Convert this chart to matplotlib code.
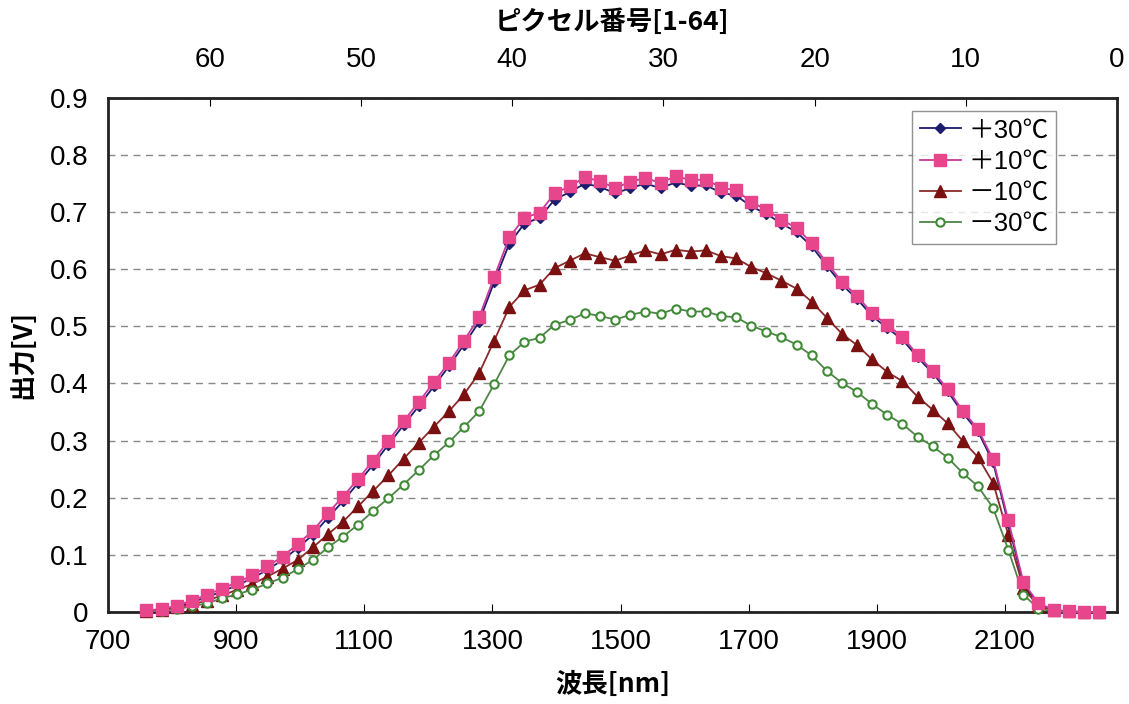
import numpy as np
import matplotlib
matplotlib.use('Agg')
import matplotlib.pyplot as plt

plt.rcParams['font.family'] = ['Liberation Sans', 'Noto Sans CJK JP']

# pixel 64 -> 1, wavelength in nm
wavelength = 760 + 23.6 * np.arange(64)

plus30 = [0.002, 0.004, 0.009, 0.017, 0.026, 0.036, 0.047, 0.059, 0.074, 0.091,
          0.112, 0.135, 0.165, 0.194, 0.226, 0.258, 0.293, 0.327, 0.360, 0.395,
          0.430, 0.468, 0.508, 0.578, 0.645, 0.680, 0.690, 0.722, 0.735, 0.750,
          0.744, 0.733, 0.742, 0.750, 0.742, 0.752, 0.746, 0.747, 0.734, 0.729,
          0.710, 0.697, 0.680, 0.665, 0.640, 0.606, 0.573, 0.548, 0.518, 0.497,
          0.477, 0.446, 0.418, 0.386, 0.348, 0.316, 0.262, 0.155, 0.048, 0.013,
          0.003, 0.001, 0.000, 0.000]
plus10 = [0.003, 0.005, 0.011, 0.020, 0.030, 0.041, 0.052, 0.064, 0.080, 0.097,
          0.119, 0.142, 0.173, 0.202, 0.233, 0.265, 0.300, 0.334, 0.367, 0.402,
          0.436, 0.475, 0.516, 0.586, 0.656, 0.690, 0.699, 0.733, 0.745, 0.761,
          0.754, 0.742, 0.753, 0.760, 0.751, 0.763, 0.756, 0.757, 0.743, 0.738,
          0.718, 0.704, 0.687, 0.672, 0.646, 0.611, 0.578, 0.553, 0.523, 0.502,
          0.482, 0.450, 0.422, 0.390, 0.352, 0.320, 0.267, 0.161, 0.052, 0.015,
          0.004, 0.001, 0.000, 0.000]
minus10 = [0.001, 0.003, 0.008, 0.013, 0.020, 0.029, 0.039, 0.049, 0.062, 0.076,
           0.091, 0.113, 0.136, 0.158, 0.185, 0.212, 0.239, 0.268, 0.296, 0.324,
           0.351, 0.381, 0.418, 0.475, 0.534, 0.563, 0.573, 0.602, 0.615, 0.628,
           0.621, 0.615, 0.624, 0.633, 0.626, 0.634, 0.631, 0.633, 0.623, 0.619,
           0.604, 0.593, 0.580, 0.566, 0.543, 0.515, 0.487, 0.467, 0.442, 0.420,
           0.404, 0.377, 0.354, 0.330, 0.299, 0.271, 0.226, 0.135, 0.042, 0.010,
           0.003, 0.001, 0.000, 0.000]
minus30 = [0.001, 0.002, 0.005, 0.010, 0.015, 0.024, 0.031, 0.039, 0.050, 0.060,
           0.075, 0.091, 0.113, 0.132, 0.153, 0.177, 0.199, 0.223, 0.248, 0.274,
           0.297, 0.324, 0.351, 0.399, 0.449, 0.473, 0.480, 0.503, 0.511, 0.523,
           0.518, 0.512, 0.520, 0.526, 0.522, 0.531, 0.526, 0.526, 0.518, 0.516,
           0.501, 0.491, 0.481, 0.468, 0.449, 0.422, 0.401, 0.385, 0.364, 0.345,
           0.329, 0.307, 0.290, 0.270, 0.243, 0.220, 0.182, 0.109, 0.030, 0.006,
           0.001, 0.000, 0.000, 0.000]

labels = ['＋30℃', '＋10℃', '－10℃', '－30℃']


def wl_to_pix(w):
    return (2275 - w) / 23.6


def pix_to_wl(p):
    return 2275 - 23.6 * p


fig = plt.figure(figsize=(11.29, 7.04), dpi=100)
ax = fig.add_axes([0.0957, 0.1307, 0.8937, 0.7303])

ax.plot(wavelength, plus30, color='#1c1c6e', lw=1.3, marker='D', ms=5,
        mfc='#1c1c6e', mec='#1c1c6e', label=labels[0], clip_on=False, zorder=3)
ax.plot(wavelength, plus10, color='#c8379a', lw=1.3, marker='s', ms=8,
        mfc='#e8468c', mec='#e8468c', label=labels[1], clip_on=False, zorder=4)
ax.plot(wavelength, minus10, color='#8a2a2a', lw=1.3, marker='^', ms=8,
        mfc='#7a1010', mec='#7a1010', label=labels[2], clip_on=False, zorder=3)
ax.plot(wavelength, minus30, color='#4f8548', lw=1.3, marker='o', ms=6,
        mfc='white', mec='#3f8a35', mew=1.5, label=labels[3], clip_on=False, zorder=3)

ax.set_xlim(700, 2275)
ax.set_ylim(0, 0.9)
ax.set_xticks(np.arange(700, 2101, 200))
ax.set_yticks(np.arange(0, 0.91, 0.1))
ax.set_yticklabels(['0'] + ['%.1f' % v for v in np.arange(0.1, 0.91, 0.1)])
ax.yaxis.grid(True, linestyle=(0, (5, 4)), color='#888888', lw=1)
ax.tick_params(axis='x', direction='in', length=6, labelsize=20, pad=12)
ax.tick_params(axis='y', length=0, labelsize=20, pad=14)
for s in ax.spines.values():
    s.set_linewidth(2)
    s.set_color('#222222')

ax.set_xlabel('波長[nm]', fontsize=19, fontweight='bold', family='Noto Sans CJK JP', labelpad=12)
ax.set_ylabel('出力[V]', fontsize=19, fontweight='bold', family='Noto Sans CJK JP', labelpad=10)

top = ax.secondary_xaxis('top', functions=(wl_to_pix, pix_to_wl))
top.set_xticks([60, 50, 40, 30, 20, 10, 0])
top.tick_params(direction='in', length=6, labelsize=20, pad=18)
top.set_xlabel('ピクセル番号[1-64]', fontsize=19, fontweight='bold',
               family='Noto Sans CJK JP', labelpad=12)

leg = ax.legend(loc='upper right', bbox_to_anchor=(0.94, 0.975), borderaxespad=0,
                fontsize=18.5, frameon=True, fancybox=False, handlelength=1.6,
                handletextpad=0.3, labelspacing=0.28, borderpad=0.3)
leg.get_frame().set_edgecolor('#777777')
leg.get_frame().set_linewidth(1)

fig.savefig('out.png', dpi=100)
